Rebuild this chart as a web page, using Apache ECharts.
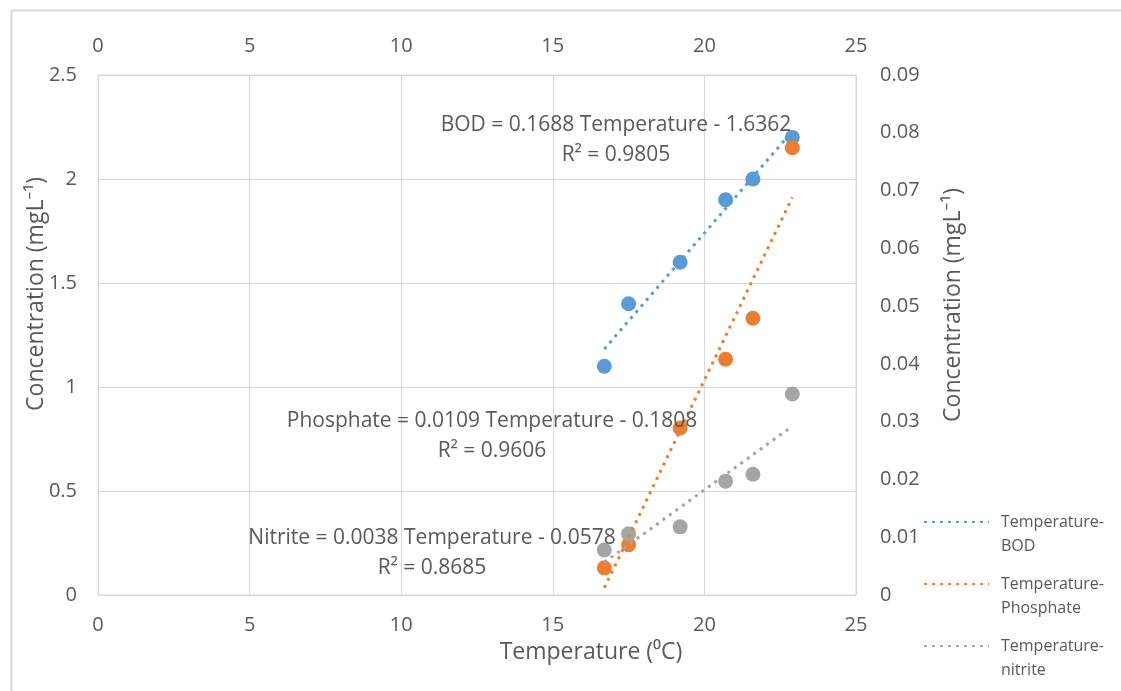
<!DOCTYPE html>
<html>
<head>
<meta charset="utf-8">
<script src="https://cdn.jsdelivr.net/npm/echarts@6/dist/echarts.min.js"></script>
<style>
  html, body { margin: 0; padding: 0; background: #fff; }
  #chart { width: 1121px; height: 691px; }
</style>
</head>
<body>
<div id="chart"></div>
<script>
// Water temperature (°C) at each sampling point
const temperature = [16.7, 17.5, 19.2, 20.7, 21.6, 22.9];
// Concentrations in mg/L
const bod       = [1.10, 1.40, 1.60, 1.90, 2.00, 2.20];
const phosphate = [0.0047, 0.0087, 0.0289, 0.0408, 0.0479, 0.0774];
const nitrite   = [0.0078, 0.0106, 0.0118, 0.0197, 0.0209, 0.0348];

// Linear trendline fits: [slope, intercept, R²]
const fitBOD       = [0.1688, -1.6362, 0.9805];
const fitPhosphate = [0.0109, -0.1808, 0.9606];
const fitNitrite   = [0.0038, -0.0578, 0.8685];

// Axis ticks
const xTicks = [0, 5, 10, 15, 20, 25];
const leftTicks = [0, 0.5, 1, 1.5, 2, 2.5];
const rightTicks = [0, 0.01, 0.02, 0.03, 0.04, 0.05, 0.06, 0.07, 0.08, 0.09];

const COLORS = { bod: '#5B9BD5', phosphate: '#ED7D31', nitrite: '#A5A5A5' };
const TEXT = '#595959';
const FONT = '"Open Sans", "Noto Sans", sans-serif';

const pairs = (xs, ys) => xs.map((x, i) => [x, ys[i]]);
const tMin = Math.min(...temperature), tMax = Math.max(...temperature);
const fitLine = f => [[tMin, f[0] * tMin + f[1]], [tMax, f[0] * tMax + f[1]]];
const eqText = (name, f) =>
  name + ' = ' + f[0].toFixed(4) + ' Temperature - ' + Math.abs(f[1]).toFixed(4) +
  '\nR\u00B2 = ' + f[2].toFixed(4);

const chart = echarts.init(document.getElementById('chart'), null, { renderer: 'canvas' });

const axisLabel = { color: TEXT, fontSize: 20, fontFamily: FONT };
const titleStyle = { color: TEXT, fontSize: 23, fontFamily: FONT };

const scatter = (name, data, yIdx, color) => ({
  name, type: 'scatter', xAxisIndex: 0, yAxisIndex: yIdx, data,
  symbol: 'circle', symbolSize: 15, z: 2,
  itemStyle: { color, opacity: 1 }
});
const trend = (name, data, yIdx, color) => ({
  name, type: 'line', xAxisIndex: 0, yAxisIndex: yIdx, data,
  symbol: 'none', showSymbol: false, z: 3, silent: true,
  lineStyle: { color, width: 3, type: [3, 5] },
  itemStyle: { color }
});

// Trendline equation text, centred on (x, y)
const eqLabel = (x, y, text) => ({
  type: 'text', x, y, z: 10, silent: true,
  style: {
    text, fill: TEXT, font: '21px ' + FONT,
    align: 'center', verticalAlign: 'middle', lineHeight: 30
  }
});

chart.setOption({
  animation: false,
  backgroundColor: '#fff',
  grid: {
    left: 98, top: 75, width: 758, height: 520,
    show: true, borderColor: '#D9D9D9', borderWidth: 1
  },
  xAxis: [
    {
      type: 'value', position: 'bottom', min: xTicks[0], max: xTicks[xTicks.length - 1], interval: 5,
      name: 'Temperature (\u2070C)', nameLocation: 'middle', nameGap: 46, nameMoveOverlap: false,
      nameTextStyle: Object.assign({ padding: [0, 0, 0, 228] }, titleStyle),
      axisLine: { show: false }, axisTick: { show: false },
      axisLabel: Object.assign({ margin: 20 }, axisLabel),
      splitLine: { show: true, lineStyle: { color: '#D9D9D9', width: 1 } }
    },
    {
      type: 'value', position: 'top', min: xTicks[0], max: xTicks[xTicks.length - 1], interval: 5,
      axisLine: { show: false }, axisTick: { show: false },
      axisLabel: Object.assign({ margin: 19 }, axisLabel),
      splitLine: { show: false }
    }
  ],
  yAxis: [
    {
      type: 'value', position: 'left', min: leftTicks[0], max: leftTicks[leftTicks.length - 1], interval: 0.5,
      name: 'Concentration (mgL\u207B\u00B9)', nameLocation: 'middle', nameGap: 50, nameMoveOverlap: false,
      nameTextStyle: Object.assign({ padding: [0, 0, 0, 82] }, titleStyle),
      axisLine: { show: false }, axisTick: { show: false },
      axisLabel: Object.assign({ margin: 21 }, axisLabel),
      splitLine: { show: true, lineStyle: { color: '#D9D9D9', width: 1 } }
    },
    {
      type: 'value', position: 'right', min: rightTicks[0], max: rightTicks[rightTicks.length - 1], interval: 0.01,
      name: 'Concentration (mgL\u207B\u00B9)', nameLocation: 'middle', nameGap: 86, nameMoveOverlap: false,
      nameTextStyle: Object.assign({ padding: [0, 0, 0, 60] }, titleStyle),
      axisLine: { show: false }, axisTick: { show: false },
      axisLabel: Object.assign({ margin: 24, formatter: v => +v.toFixed(2) + '' }, axisLabel),
      splitLine: { show: false }
    }
  ],
  legend: {
    orient: 'vertical', left: 923, top: 486, height: 230, padding: 0, itemGap: -10,
    itemWidth: 65, itemHeight: 14,
    data: ['Temperature-BOD', 'Temperature-Phosphate', 'Temperature-nitrite'],
    // leading blank line keeps the first text line level with the sample line
    formatter: n => '\n' + n.replace('-', '-\n'),
    itemStyle: { opacity: 0 },
    textStyle: { color: TEXT, fontSize: 16, fontFamily: FONT, lineHeight: 24, padding: [0, 0, 0, 7] },
    selectedMode: false
  },
  series: [
    scatter('BOD', pairs(temperature, bod), 0, COLORS.bod),
    scatter('Phosphate', pairs(temperature, phosphate), 1, COLORS.phosphate),
    scatter('Nitrite', pairs(temperature, nitrite), 1, COLORS.nitrite),
    trend('Temperature-BOD', fitLine(fitBOD), 0, COLORS.bod),
    trend('Temperature-Phosphate', fitLine(fitPhosphate), 1, COLORS.phosphate),
    trend('Temperature-nitrite', fitLine(fitNitrite), 1, COLORS.nitrite)
  ],
  graphic: [
    {
      type: 'rect', left: 9, top: 8, z: -10, silent: true,
      shape: { width: 1130, height: 700 },
      style: { fill: 'none', stroke: '#D9D9D9', lineWidth: 2 }
    },
    eqLabel(616, 140, eqText('BOD', fitBOD)),
    eqLabel(492, 436, eqText('Phosphate', fitPhosphate)),
    eqLabel(432, 553, eqText('Nitrite', fitNitrite))
  ]
});
</script>
</body>
</html>
